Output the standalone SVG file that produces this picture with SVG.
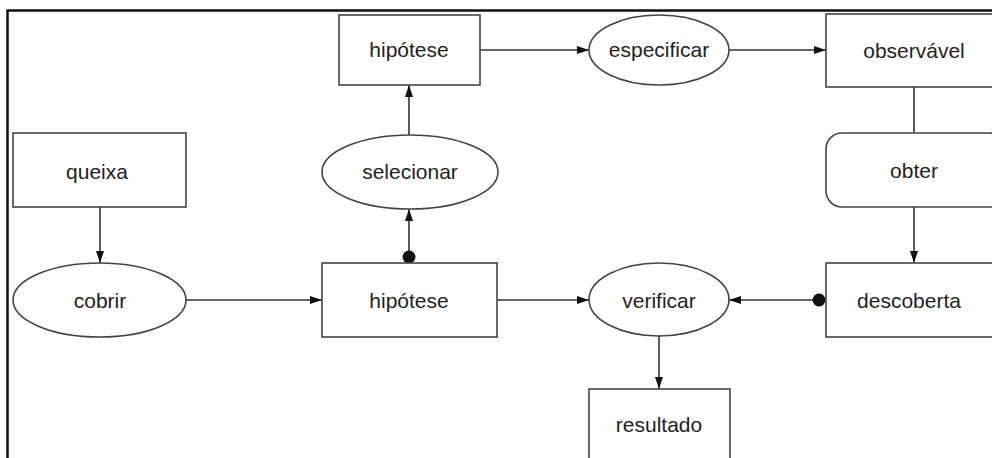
<svg xmlns="http://www.w3.org/2000/svg" width="992" height="458" viewBox="0 0 992 458">
<defs>
<style>
.box{fill:#fff;stroke:#444;stroke-width:1.6}
.lbl{font-family:"Liberation Sans",Arial,sans-serif;font-size:21px;fill:#222;text-anchor:middle;dominant-baseline:central}
.edge{fill:none;stroke:#333;stroke-width:1.6}
.frame{fill:none;stroke:#111;stroke-width:2.5}
</style>
<marker id="arr" viewBox="0 0 12 8" refX="12" refY="4" markerWidth="12" markerHeight="8" markerUnits="userSpaceOnUse" orient="auto">
<path d="M0,0 L12,4 L0,8 Z" fill="#111"/>
</marker>
<marker id="dot" viewBox="0 0 14 14" refX="7" refY="7" markerWidth="14" markerHeight="14" markerUnits="userSpaceOnUse">
<circle cx="7" cy="7" r="6.5" fill="#111"/>
</marker>
</defs>
<rect width="992" height="458" fill="#fff"/>
<path class="frame" d="M7.5,458 V10.5 H992"/>
<g id="connectors">
<path class="edge" d="M480,50 H589" marker-end="url(#arr)"/>
<path class="edge" d="M729,50 H826" marker-end="url(#arr)"/>
<path class="edge" d="M914,87 V133"/>
<path class="edge" d="M914,207 V263" marker-end="url(#arr)"/>
<path class="edge" d="M409,135 V85" marker-end="url(#arr)"/>
<path class="edge" d="M409,257 V209" marker-start="url(#dot)" marker-end="url(#arr)"/>
<path class="edge" d="M100,207 V263" marker-end="url(#arr)"/>
<path class="edge" d="M186,300 H322" marker-end="url(#arr)"/>
<path class="edge" d="M497,300 H589" marker-end="url(#arr)"/>
<path class="edge" d="M819,300 H729" marker-start="url(#dot)" marker-end="url(#arr)"/>
<path class="edge" d="M659,336 V389" marker-end="url(#arr)"/>
</g>
<g id="hipotese1"><rect class="box" x="339" y="15" width="141" height="70"/><text class="lbl" x="409" y="49">hipótese</text></g>
<g id="especificar"><ellipse class="box" cx="659" cy="50" rx="70" ry="35"/><text class="lbl" x="659" y="49">especificar</text></g>
<g id="observavel"><rect class="box" x="826" y="14" width="180" height="73"/><text class="lbl" x="914" y="50">observável</text></g>
<g id="queixa"><rect class="box" x="13" y="133" width="173" height="74"/><text class="lbl" x="97" y="171">queixa</text></g>
<g id="selecionar"><ellipse class="box" cx="410" cy="172" rx="88" ry="37"/><text class="lbl" x="410" y="171">selecionar</text></g>
<g id="obter"><rect class="box" x="826" y="133" width="180" height="74" rx="16" ry="16"/><text class="lbl" x="914" y="170">obter</text></g>
<g id="cobrir"><ellipse class="box" cx="99.5" cy="300" rx="86.5" ry="37"/><text class="lbl" x="100" y="300">cobrir</text></g>
<g id="hipotese2"><rect class="box" x="322" y="263" width="175" height="74"/><text class="lbl" x="409" y="300">hipótese</text></g>
<g id="verificar"><ellipse class="box" cx="659" cy="299.5" rx="70" ry="36.5"/><text class="lbl" x="659" y="300">verificar</text></g>
<g id="descoberta"><rect class="box" x="826" y="263" width="180" height="74"/><text class="lbl" x="909" y="300">descoberta</text></g>
<g id="resultado"><rect class="box" x="589" y="389" width="141" height="80"/><text class="lbl" x="659" y="424">resultado</text></g>
</svg>
